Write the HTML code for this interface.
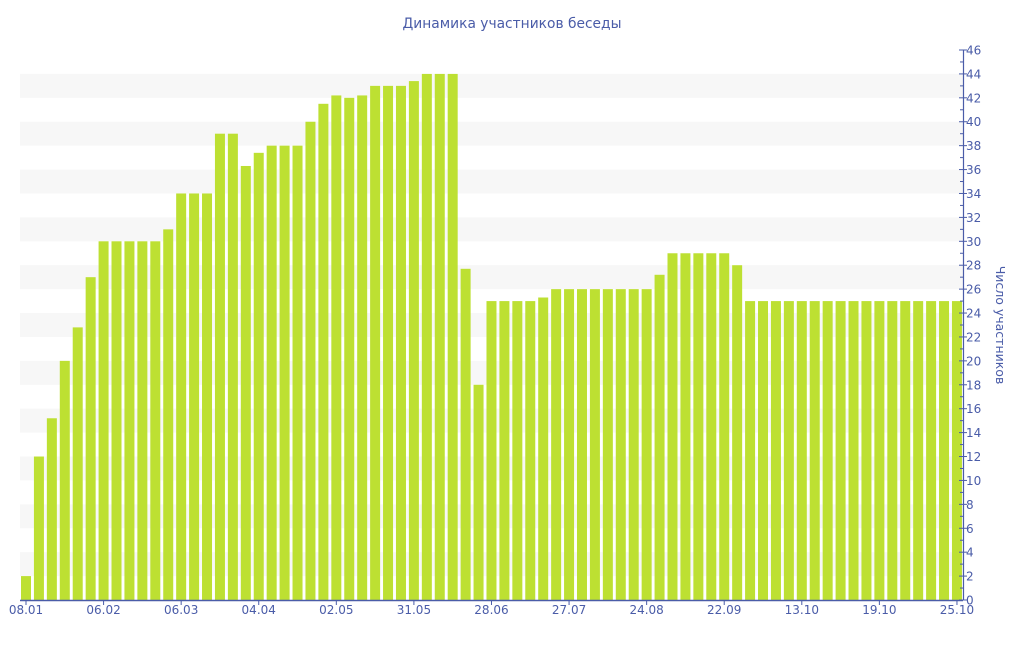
<!DOCTYPE html>
<html><head><meta charset="utf-8"><style>
body{margin:0;background:#fff}
svg text{font-family:"DejaVu Sans","Liberation Sans",sans-serif;fill:#4a5ca8}
</style></head><body>
<svg width="1024" height="640" xmlns="http://www.w3.org/2000/svg" id="s">
<text x="512" y="28" font-size="13.8" text-anchor="middle">Динамика участников беседы</text>
<g id="bands"></g><g id="bars"></g>
<line x1="20" y1="600.5" x2="963" y2="600.5" stroke="#4a5ca8" stroke-width="1.5"/>
<line x1="963.5" y1="50" x2="963.5" y2="600" stroke="#4a5ca8" stroke-width="1.2"/>
<g id="ax"></g>
<text transform="translate(996,325) rotate(90)" font-size="12.5" text-anchor="middle">Число участников</text>
</svg>
<script>
const ns="http://www.w3.org/2000/svg";
function el(t,a,p,txt){const e=document.createElementNS(ns,t);for(const k in a)e.setAttribute(k,a[k]);if(txt!==undefined)e.textContent=txt;document.getElementById(p).appendChild(e);}
const Y=v=>600-v*550/46;
for(let k=2;k<46;k+=4)el('rect',{x:20,y:Y(k+2),width:943,height:Y(k)-Y(k+2),fill:'#f7f7f7'},'bands');
const v=[2,12,15.2,20,22.8,27,30,30,30,30,30,31,34,34,34,39,39,36.3,37.4,38,38,38,40,41.5,42.2,42,42.2,43,43,43,43.4,44,44,44,27.7,18,25,25,25,25,25.3,26,26,26,26,26,26,26,26,27.2,29,29,29,29,29,28];
while(v.length<73)v.push(25);
v.forEach((d,i)=>{const c=26+i*12.93;el('rect',{x:c-5,y:Y(d),width:10,height:600-Y(d),fill:'#bde032'},'bars');});
const L=['08.01','06.02','06.03','04.04','02.05','31.05','28.06','27.07','24.08','22.09','13.10','19.10','25.10'];
L.forEach((t,j)=>{const c=26+j*6*12.93;el('line',{x1:c,y1:600,x2:c,y2:605,stroke:'#4a5ca8'},'ax');el('text',{x:c,y:614,'font-size':12,'text-anchor':'middle'},'ax',t);});
for(let k=0;k<=46;k++){const y=Y(k);el('line',{x1:k%2?960:959,y1:y,x2:k%2?963:967,y2:y,stroke:'#4a5ca8'},'ax');if(k%2==0)el('text',{x:966,y:y+4.5,'font-size':12},'ax',String(k));}
</script>
</body></html>
